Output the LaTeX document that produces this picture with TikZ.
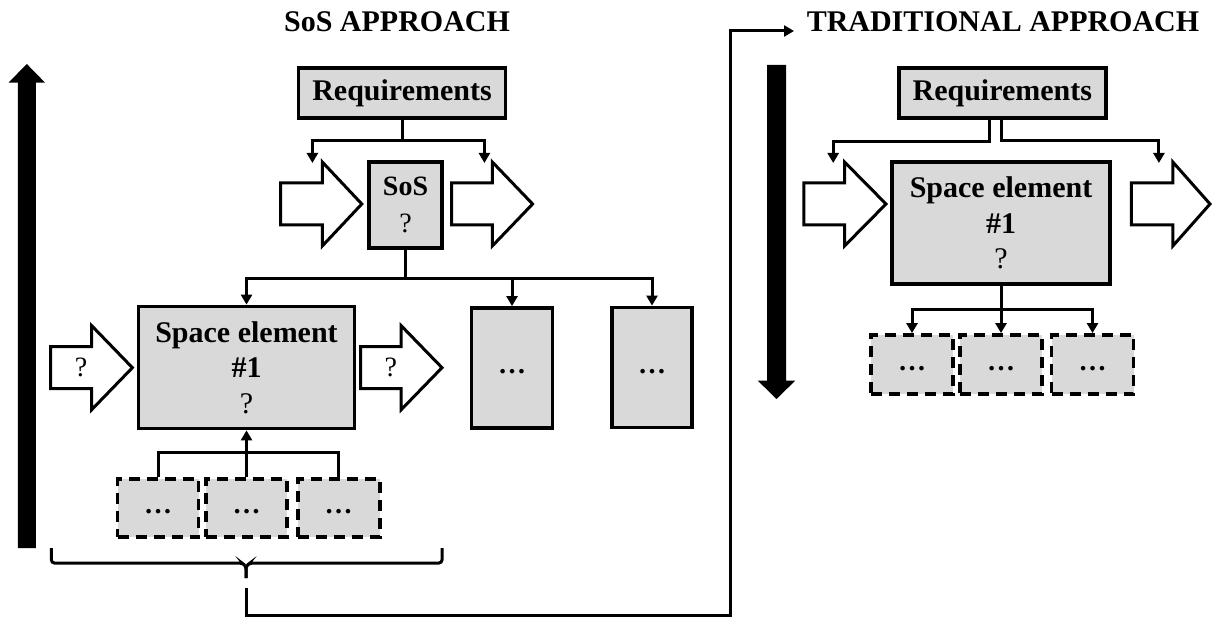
\documentclass[tikz,border=0pt]{standalone}
\usepackage{fontspec}
\setmainfont{Liberation Serif}
\usetikzlibrary{arrows.meta}
\definecolor{boxgray}{HTML}{D9D9D9}

% hollow block arrow: name, shaft start x, shaft end x, tip x, centre y
\newcommand\blockarrow[5]{%
  \draw[hollow] (#2,#5-21) -- (#3,#5-21) -- (#3,#5-42) -- (#4,#5)
    -- (#3,#5+42) -- (#3,#5+21) -- (#2,#5+21) -- cycle;
  \coordinate (#1) at ({(#2+#3)/2+10},#5);
}

\begin{document}
\begin{tikzpicture}[x=1pt,y=-1pt,
  elbox/.style={draw=black, line width=3.8pt, fill=boxgray, inner sep=0pt, align=center},
  dashbox/.style={elbox, dash pattern=on 11pt off 7pt},
  conn/.style={line width=3pt},
  arr/.style={conn, -{Triangle[width=11pt,length=10pt]}},
  hollow/.style={draw=black, fill=white, line width=3pt, line join=miter},
  big/.style={font=\fontsize{30}{35.5}\selectfont\bfseries},
  mid/.style={font=\fontsize{28}{36.5}\selectfont\bfseries},
  qmark/.style={font=\fontsize{28}{30}\selectfont, inner sep=0pt},
  dots/.style={font=\fontsize{28}{30}\selectfont\bfseries},
]
\useasboundingbox (0,0) rectangle (1212,617);

% ---------- titles ----------
\node[big, anchor=base, inner sep=0pt] (sosTitle) at (397,31.7) {SoS APPROACH};
\node[big, anchor=base, inner sep=0pt] (tradTitle) at (1003,31.7) {TRADITIONAL APPROACH};

% ---------- level arrows ----------
\fill[black] (17.8,548) -- (17.8,82.7) -- (8.5,82.7) -- (26.8,64)
  -- (45.1,82.7) -- (35.8,82.7) -- (35.8,548) -- cycle;
\fill[black] (767,65) -- (786,65) -- (786,380.7) -- (795.2,380.7)
  -- (776.5,399) -- (757.8,380.7) -- (767,380.7) -- cycle;

% ---------- SoS approach ----------
\node[elbox, big, minimum width=207pt, minimum height=50pt] (reqL) at (402,93) {Requirements};
\node[elbox, mid, minimum width=73pt, minimum height=86pt] (sos) at (405.5,205)
  {SoS\\{\mdseries ?}};

\blockarrow{inL}{280.7}{322.3}{361.8}{204}
\blockarrow{outL}{451.5}{492.3}{532.6}{204}

\coordinate (jL) at (402,141);
\coordinate (tipInL) at (312.4,163);
\coordinate (tipOutL) at (484.4,163);
\draw[conn] (reqL.south) -- (jL);
\draw[arr] (jL) -| (tipInL);
\draw[arr] (jL) -| (tipOutL);

\node[elbox, big, minimum width=216pt, minimum height=122pt] (spaceL) at (246.5,367.5)
  {Space element\\\#1\\{\mdseries ?}};
\node[elbox, minimum width=81pt, minimum height=120pt] (b2) at (512,368) {};
\node[dots] (b2t) at (512,372) {…};
\node[elbox, minimum width=80pt, minimum height=120pt] (b3) at (652,367.5) {};
\node[dots] (b3t) at (652,371.5) {…};

\draw[conn] (sos.south) -- ++(0,29) coordinate (jS);
\draw[arr] (jS) -| (spaceL.north);
\draw[arr] (jS) -| (b2.north);
\draw[arr] (jS) -| (b3.north);

\blockarrow{seIn}{50.6}{91.7}{132.4}{367.7}
\blockarrow{seOut}{360.5}{401.2}{442}{367.7}
\node[qmark] (qIn) at (seIn) {?};
\node[qmark] (qOut) at (seOut) {?};

\node[dashbox, minimum width=81pt, minimum height=58pt] (dA) at (158,508) {};
\node[dashbox, minimum width=81pt, minimum height=58pt] (dB) at (246.5,508) {};
\node[dashbox, minimum width=82pt, minimum height=58pt] (dC) at (338.7,508) {};
\node[dots] (dAt) at (158,512) {…};
\node[dots] (dBt) at (246.5,512) {…};
\node[dots] (dCt) at (338.7,512) {…};

\coordinate (hubL) at (246.5,452.3);
\draw[conn] (dA.north) |- (hubL) -| (dC.north);
\draw[arr] (dB.north) -- (spaceL.south);

% brace under the SoS side
\coordinate (braceTip) at (246,578);
\draw[conn, rounded corners=3pt] (51.4,548) -- (51.4,563) -- (242,563) -- (246,566)
  -- (braceTip);
\draw[conn, rounded corners=3pt] (442,548) -- (442,563) -- (250,563) -- (246,566)
  -- (braceTip);

% link from the SoS side to the traditional side
\coordinate (elbowStart) at (246,588);
\coordinate (elbowEnd) at (794,31);
\draw[arr] (elbowStart) |- (730.5,615) |- (elbowEnd);

% ---------- traditional approach ----------
\node[elbox, big, minimum width=207pt, minimum height=50pt] (reqR) at (1002.3,93) {Requirements};
\node[elbox, big, minimum width=218pt, minimum height=122pt] (spaceR) at (1001,223)
  {Space element\\\#1\\{\mdseries ?}};

\blockarrow{inR}{803.8}{844.5}{886}{204}
\blockarrow{outR}{1131.3}{1172.8}{1210}{204}

\coordinate (tipInR) at (833.2,163);
\coordinate (tipOutR) at (1158.9,163);
\draw[arr] ([xshift=-13pt]reqR.south) -- ++(0,22) -| (tipInR);
\draw[arr] ([xshift=-1pt]reqR.south) -- ++(0,21) -| (tipOutR);

\node[dashbox, minimum width=82pt, minimum height=59pt] (rA) at (912,364.5) {};
\node[dashbox, minimum width=82pt, minimum height=59pt] (rB) at (1001,364.5) {};
\node[dashbox, minimum width=82pt, minimum height=59pt] (rC) at (1092.5,364.5) {};
\node[dots] (rAt) at (912,368.5) {…};
\node[dots] (rBt) at (1001,368.5) {…};
\node[dots] (rCt) at (1092.5,368.5) {…};

\draw[conn] (spaceR.south) -- ++(0,24) coordinate (jR);
\draw[arr] (jR) -| (rA.north);
\draw[arr] (jR) -- (rB.north);
\draw[arr] (jR) -| (rC.north);
\end{tikzpicture}
\end{document}
